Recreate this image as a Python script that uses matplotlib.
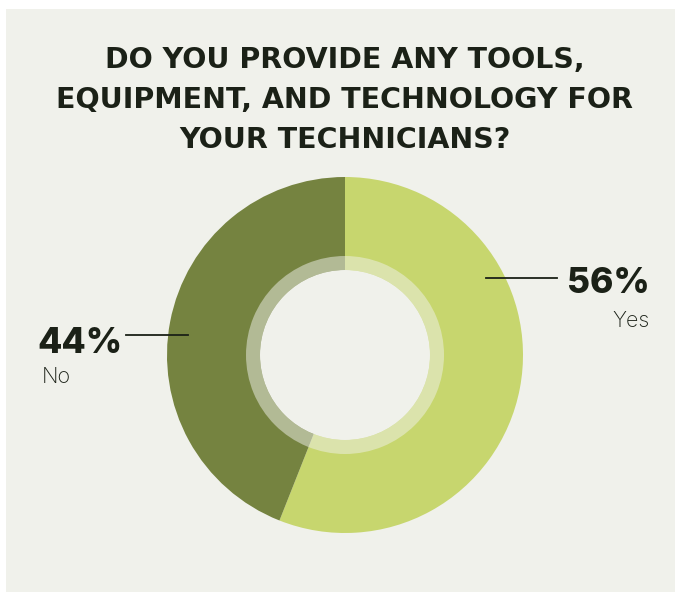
import matplotlib
matplotlib.use("Agg")
import matplotlib.pyplot as plt
from matplotlib.patches import Rectangle, Circle, Wedge

plt.rcParams['font.family'] = ['Inter', 'DejaVu Sans']

title_lines = ["DO YOU PROVIDE ANY TOOLS,",
               "EQUIPMENT, AND TECHNOLOGY FOR",
               "YOUR TECHNICIANS?"]
labels = ["Yes", "No"]
shares = [56, 44]
colors = ["#c7d66e", "#758340"]

W, H = 675, 592
BG = "#f0f1eb"
INK = "#1b2117"

fig = plt.figure(figsize=(W / 100, H / 100), dpi=100)
ax = fig.add_axes([0, 0, 1, 1])

# panel behind the chart
ax.add_patch(Rectangle((6, 0), W - 6, H - 9, facecolor=BG, edgecolor="none", zorder=0))

cx, cy, R = 345, H - 355, 178
ax.pie(shares, colors=colors, startangle=90, counterclock=False,
       center=(cx, cy), radius=R, frame=True,
       wedgeprops=dict(linewidth=0))
ax.set_xlim(0, W)
ax.set_ylim(0, H)
ax.set_aspect("equal")
ax.axis("off")

# translucent inner ring and hole
ax.add_patch(Wedge((cx, cy), 99, 0, 360, width=14, facecolor=BG, alpha=0.5,
                   edgecolor="none", zorder=5))
ax.add_patch(Circle((cx, cy), 85, facecolor=BG, edgecolor="none", zorder=6))

for i, line in enumerate(title_lines):
    ax.text(345, H - (67.7 + 40.3 * i), line, ha="center", va="baseline",
            fontsize=20.5, fontweight="bold", color=INK,
            family=["DejaVu Sans"])

# Yes label
ax.plot([486, 557], [H - 278, H - 278], color=INK, lw=1.3)
ax.text(650, H - 293, f"{shares[0]}%", ha="right", va="baseline",
        fontsize=25.5, fontweight="heavy", color=INK)
ax.text(650, H - 327, labels[0], ha="right", va="baseline",
        fontsize=15.5, fontweight="light", color=INK)

# No label
ax.plot([126, 188], [H - 335, H - 335], color=INK, lw=1.3)
ax.text(37, H - 353, f"{shares[1]}%", ha="left", va="baseline",
        fontsize=25.5, fontweight="heavy", color=INK)
ax.text(42, H - 383, labels[1], ha="left", va="baseline",
        fontsize=15.5, fontweight="light", color=INK)

fig.savefig("out.png", dpi=100, facecolor="white")
